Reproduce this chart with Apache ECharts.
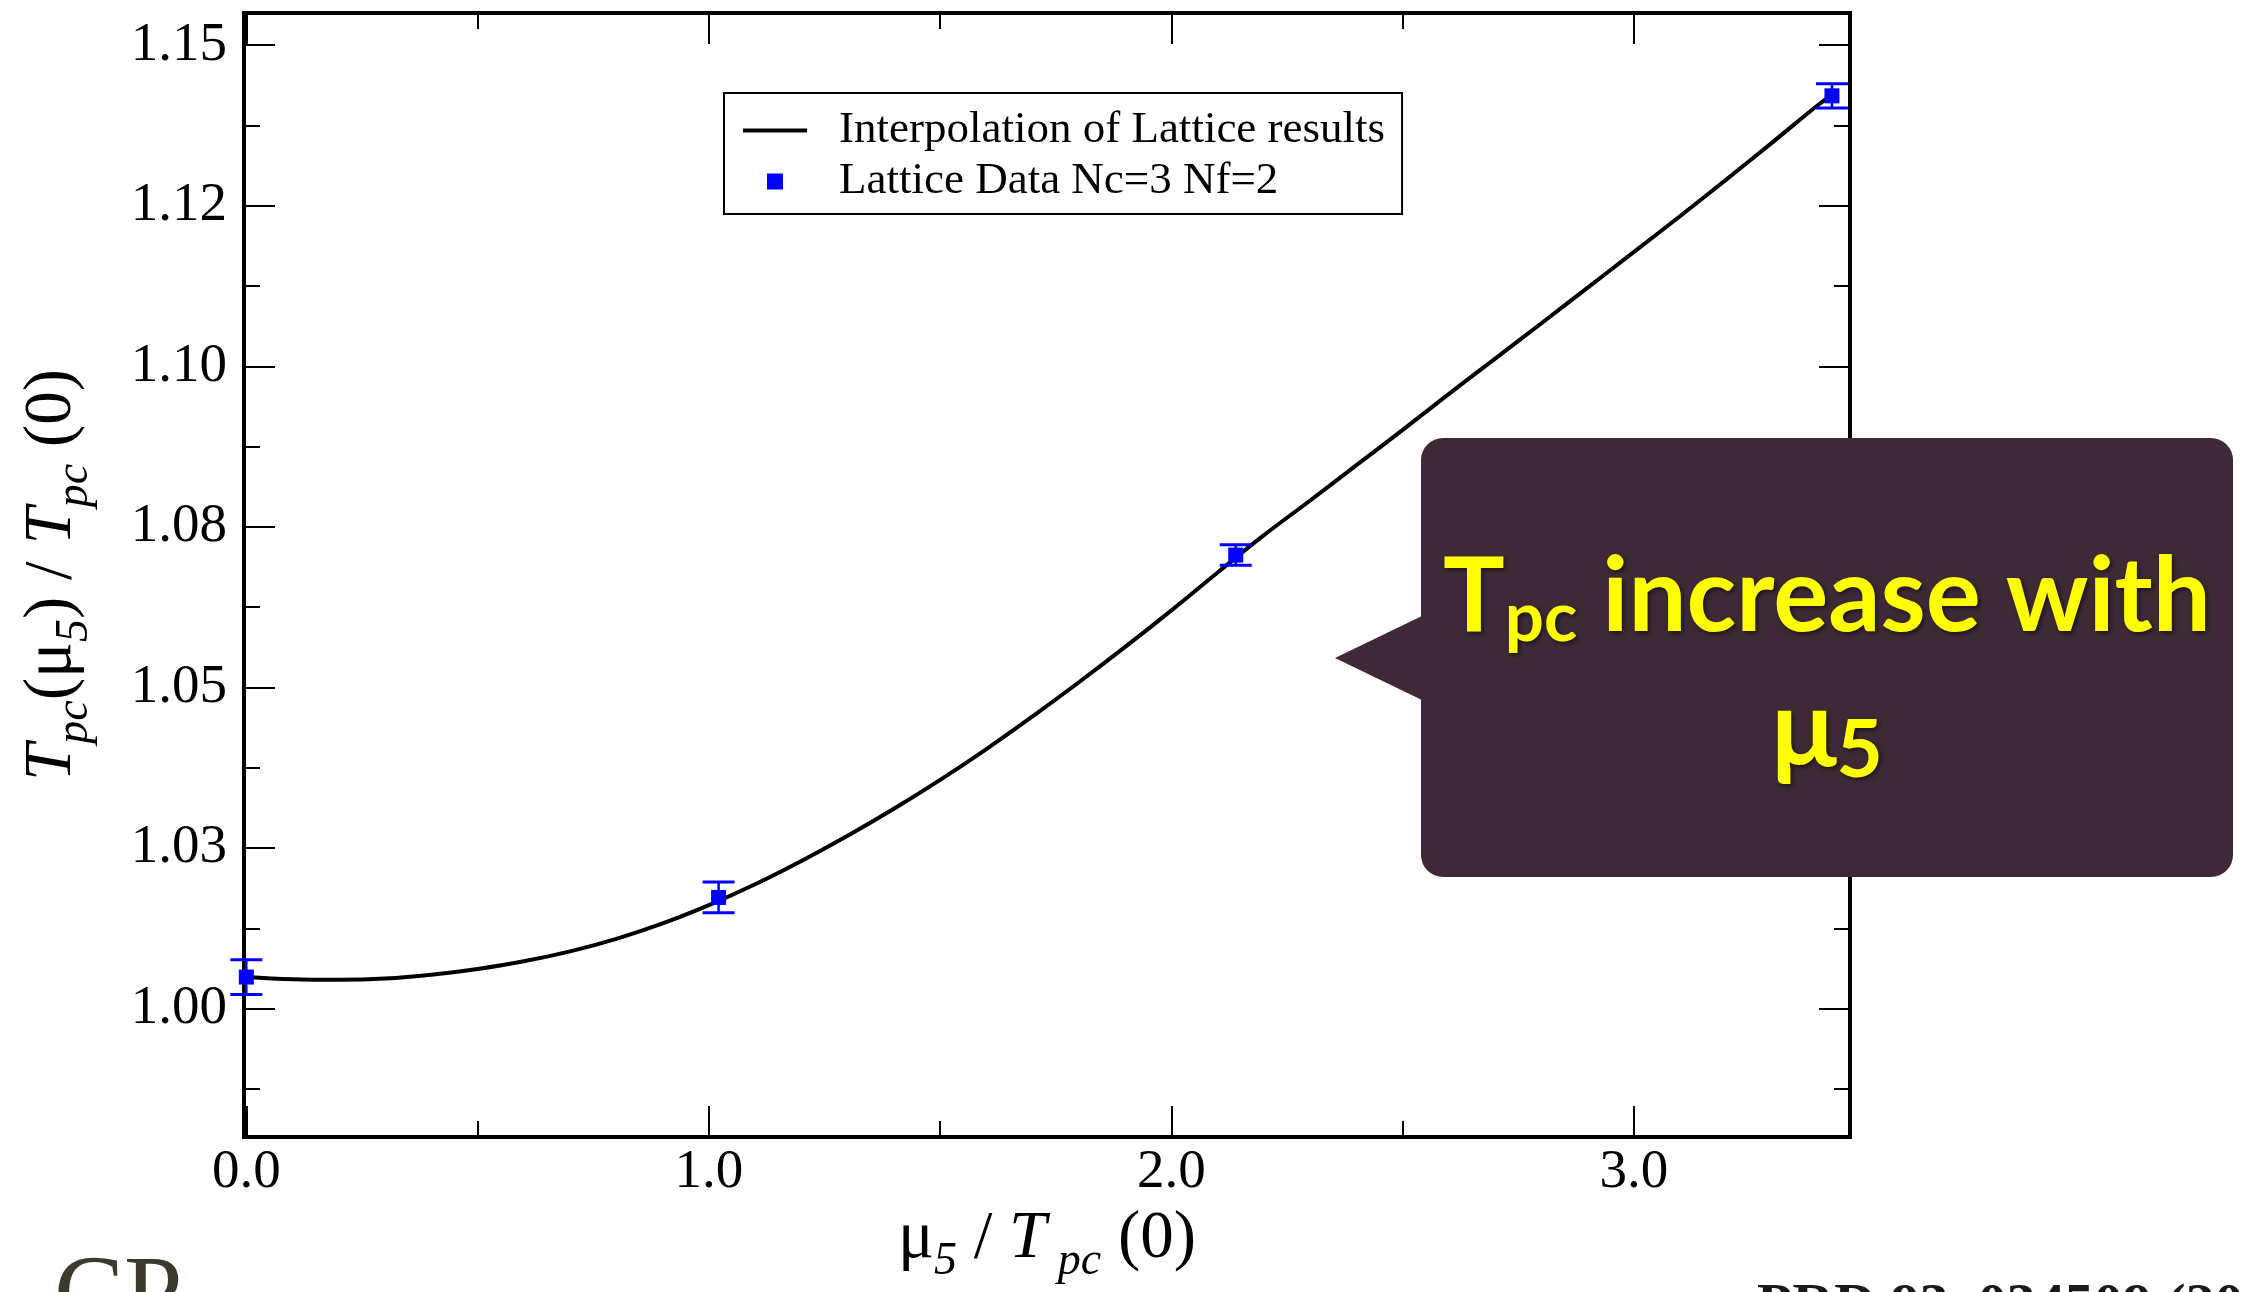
<!DOCTYPE html>
<html>
<head>
<meta charset="utf-8">
<title>Tpc vs mu5</title>
<script src="https://cdn.jsdelivr.net/npm/echarts@6/dist/echarts.min.js"></script>
<style>
  html, body { margin: 0; padding: 0; background: #ffffff; }
  #chart { width: 2248px; height: 1292px; }
</style>
</head>
<body>
<div id="chart"></div>
<script>
// Axis ticks and labels
const xMajorTicks = [0, 1, 2, 3];
const xTickLabels = ['0.0', '1.0', '2.0', '3.0'];
const xMinorTicks = [0.5, 1.5, 2.5];
const yMajorTicks = [1.000, 1.025, 1.050, 1.075, 1.100, 1.125, 1.150];
const yTickLabels = ['1.00', '1.03', '1.05', '1.08', '1.10', '1.12', '1.15'];
const yMinorTicks = [0.9875, 1.0125, 1.0375, 1.0625, 1.0875, 1.1125, 1.1375];

// Interpolating curve through the lattice results
const interpX = [0.00, 0.10, 0.20, 0.30, 0.40, 0.50, 0.60, 0.70, 0.80, 0.90,
                 1.00, 1.10, 1.20, 1.30, 1.40, 1.50, 1.60, 1.70, 1.80, 1.90,
                 2.00, 2.10, 2.20, 2.30, 2.40, 2.50, 2.60, 2.70, 2.80, 2.90,
                 3.00, 3.10, 3.20, 3.30, 3.40, 3.428];
const interpY = [1.00490, 1.00455, 1.00447, 1.00466, 1.00525, 1.00615, 1.00735, 1.00890, 1.01085, 1.01325,
                 1.01610, 1.01935, 1.02298, 1.02690, 1.03110, 1.03560, 1.04040, 1.04550, 1.05080, 1.05630,
                 1.06200, 1.06790, 1.07370, 1.07910, 1.08460, 1.09010, 1.09570, 1.10120, 1.10670, 1.11225,
                 1.11780, 1.12340, 1.12910, 1.13490, 1.14080, 1.14220];

// Lattice data, Nc=3 Nf=2 (value and error)
const latticeX = [0.000, 1.021, 2.139, 3.428];
const latticeY = [1.0049, 1.0173, 1.0706, 1.1421];
const latticeErr = [0.0027, 0.0024, 0.0016, 0.0019];

const SERIF = "'Liberation Serif', 'DejaVu Serif', serif";
const X_MIN = -0.005, X_MAX = 3.467;
const Y_MIN = 0.98, Y_MAX = 1.155;

function xAxisDef(position, ticks, len, withLabels) {
  return {
    type: 'value', position: position, min: X_MIN, max: X_MAX,
    axisLine: { show: false, onZero: false },
    splitLine: { show: false },
    axisTick: { show: true, inside: true, length: len, customValues: ticks,
                lineStyle: { color: '#000', width: 2 } },
    axisLabel: withLabels ? {
      show: true, customValues: ticks, margin: 8,
      formatter: function (v) {
        const i = xMajorTicks.findIndex(t => Math.abs(t - v) < 1e-6);
        return i >= 0 ? xTickLabels[i] : '';
      },
      color: '#000', fontFamily: SERIF, fontSize: 55
    } : { show: false }
  };
}

function yAxisDef(position, ticks, len, withLabels) {
  return {
    type: 'value', position: position, min: Y_MIN, max: Y_MAX,
    axisLine: { show: false, onZero: false },
    splitLine: { show: false },
    axisTick: { show: true, inside: true, length: len, customValues: ticks,
                lineStyle: { color: '#000', width: 2 } },
    axisLabel: withLabels ? {
      show: true, customValues: ticks, margin: 17,
      formatter: function (v) {
        const i = yMajorTicks.findIndex(t => Math.abs(t - v) < 1e-6);
        return i >= 0 ? yTickLabels[i] : '';
      },
      color: '#000', fontFamily: SERIF, fontSize: 55
    } : { show: false }
  };
}

const titleRich = {
  it:  { fontFamily: SERIF, fontSize: 67, fontStyle: 'italic', color: '#000', verticalAlign: 'middle' },
  rm:  { fontFamily: SERIF, fontSize: 67, color: '#000', verticalAlign: 'middle' },
  sub: { fontFamily: SERIF, fontSize: 46, fontStyle: 'italic', color: '#000', verticalAlign: 'middle',
         padding: [46, 0, 0, 0] }
};

const xMain = xAxisDef('bottom', xMajorTicks, 31, true);
xMain.name = '{rm|μ}{sub|5}{rm| / }{it|T}{sub| pc}{rm| (0)}';
xMain.nameLocation = 'middle';
xMain.nameGap = 56;
xMain.nameTextStyle = { rich: titleRich };

const yMain = yAxisDef('left', yMajorTicks, 31, true);
yMain.name = '{it|T}{sub|pc}{rm|(μ}{sub|5}{rm|) / }{it|T}{sub|pc}{rm| (0)}';
yMain.nameLocation = 'middle';
yMain.nameRotate = 90;
yMain.nameGap = 146;
yMain.nameTextStyle = { rich: titleRich };

const chart = echarts.init(document.getElementById('chart'), null, { renderer: 'canvas' });

const CALLOUT_FILL = '#3d2a36';
const calloutShadow = {
  textShadowColor: 'rgba(0,0,0,0.55)', textShadowBlur: 4,
  textShadowOffsetX: 2, textShadowOffsetY: 2
};

chart.setOption({
  animation: false,
  backgroundColor: '#ffffff',
  grid: {
    left: 244, top: 13, width: 1606, height: 1124,
    show: true, borderColor: '#000', borderWidth: 4, backgroundColor: 'transparent',
    containLabel: false
  },
  xAxis: [
    xMain,
    xAxisDef('bottom', xMinorTicks, 16, false),
    xAxisDef('top', xMajorTicks, 31, false),
    xAxisDef('top', xMinorTicks, 16, false)
  ],
  yAxis: [
    yMain,
    yAxisDef('left', yMinorTicks, 16, false),
    yAxisDef('right', yMajorTicks, 31, false),
    yAxisDef('right', yMinorTicks, 16, false)
  ],
  legend: {
    orient: 'vertical',
    left: 724, top: 93,
    padding: [15, 17, 10, 19],
    itemGap: 6,
    itemWidth: 91, itemHeight: 16,
    borderColor: '#000', borderWidth: 2, borderRadius: 0,
    backgroundColor: '#ffffff',
    selectedMode: false,
    textStyle: { fontFamily: SERIF, fontSize: 45, lineHeight: 45, color: '#000' },
    data: [
      { name: 'Interpolation of Lattice results', icon: 'path://M0,0M0,6H64V10H0ZM91,16' },
      { name: 'Lattice Data Nc=3 Nf=2', icon: 'path://M0,0M24,0H40V16H24ZM91,16' }
    ]
  },
  series: [
    {
      type: 'line',
      name: 'Interpolation of Lattice results',
      data: interpX.map((x, i) => [x, interpY[i]]),
      smooth: 0.4,
      symbol: 'none',
      color: '#000',
      lineStyle: { color: '#000', width: 4 },
      z: 3
    },
    {
      type: 'custom',
      name: 'Lattice Data Nc=3 Nf=2',
      color: '#0000ff',
      clip: false,
      z: 4,
      encode: { x: 0, y: 1 },
      data: latticeX.map((x, i) => [x, latticeY[i], latticeErr[i]]),
      renderItem: function (params, api) {
        const x = api.value(0), y = api.value(1), e = api.value(2);
        const c = api.coord([x, y]);
        const hi = api.coord([x, y + e]);
        const lo = api.coord([x, y - e]);
        const cap = 16, half = 7.5;
        const blue = '#0000ff';
        return {
          type: 'group',
          children: [
            { type: 'line', shape: { x1: c[0], y1: hi[1], x2: c[0], y2: lo[1] },
              style: { stroke: blue, lineWidth: 2.5 } },
            { type: 'line', shape: { x1: c[0] - cap, y1: hi[1], x2: c[0] + cap, y2: hi[1] },
              style: { stroke: blue, lineWidth: 3 } },
            { type: 'line', shape: { x1: c[0] - cap, y1: lo[1], x2: c[0] + cap, y2: lo[1] },
              style: { stroke: blue, lineWidth: 3 } },
            { type: 'rect', shape: { x: c[0] - half, y: c[1] - half, width: 2 * half, height: 2 * half },
              style: { fill: blue } }
          ]
        };
      }
    }
  ],
  graphic: [
    // speech-bubble callout
    { type: 'rect', z: 100, shape: { x: 1421, y: 438, width: 812, height: 439, r: 22 },
      style: { fill: CALLOUT_FILL } },
    { type: 'polygon', z: 100, shape: { points: [[1424, 615], [1335, 658], [1424, 701]] },
      style: { fill: CALLOUT_FILL } },
    { type: 'text', z: 101,
      style: Object.assign({
        text: '{t|T}{s|pc}{t| increase with}',
        x: 1827, y: 598,
        align: 'center', verticalAlign: 'middle',
        textAlign: 'center', textVerticalAlign: 'middle',
        fill: '#ffff00',
        fontFamily: 'Lato', fontWeight: 'bold', fontSize: 103,
        rich: {
          t: { fontFamily: 'Lato', fontWeight: 'bold', fontSize: 103, fill: '#ffff00', verticalAlign: 'middle' },
          s: { fontFamily: 'Lato', fontWeight: 'bold', fontSize: 69, fill: '#ffff00', verticalAlign: 'middle',
               padding: [42, 0, 0, 0] }
        }
      }, calloutShadow) },
    { type: 'text', z: 101,
      style: Object.assign({
        text: '{m|μ}{f|5}',
        x: 1827, y: 731,
        align: 'center', verticalAlign: 'middle',
        textAlign: 'center', textVerticalAlign: 'middle',
        fill: '#ffff00',
        fontFamily: 'Lato', fontWeight: 'bold', fontSize: 108,
        rich: {
          m: { fontFamily: 'Lato', fontWeight: 'bold', fontSize: 108, fill: '#ffff00', verticalAlign: 'middle' },
          f: { fontFamily: 'Lato', fontWeight: 'bold', fontSize: 80, fill: '#ffff00', verticalAlign: 'middle',
               padding: [40, 0, 0, 0] }
        }
      }, calloutShadow) },
    // page footer fragments
    { type: 'text', z: 50,
      style: { text: 'CP', x: 54, y: 1300, align: 'left', verticalAlign: 'middle',
               textAlign: 'left', textVerticalAlign: 'middle',
               fill: '#3b3a2c', fontFamily: SERIF, fontSize: 105 } },
    { type: 'text', z: 50,
      style: { text: 'PRD 93, 034509 (2016)', x: 1757, y: 1308, align: 'left', verticalAlign: 'middle',
               textAlign: 'left', textVerticalAlign: 'middle',
               fill: '#1a1a1a', fontFamily: SERIF, fontWeight: 'bold', fontSize: 58 } }
  ]
});
</script>
</body>
</html>
